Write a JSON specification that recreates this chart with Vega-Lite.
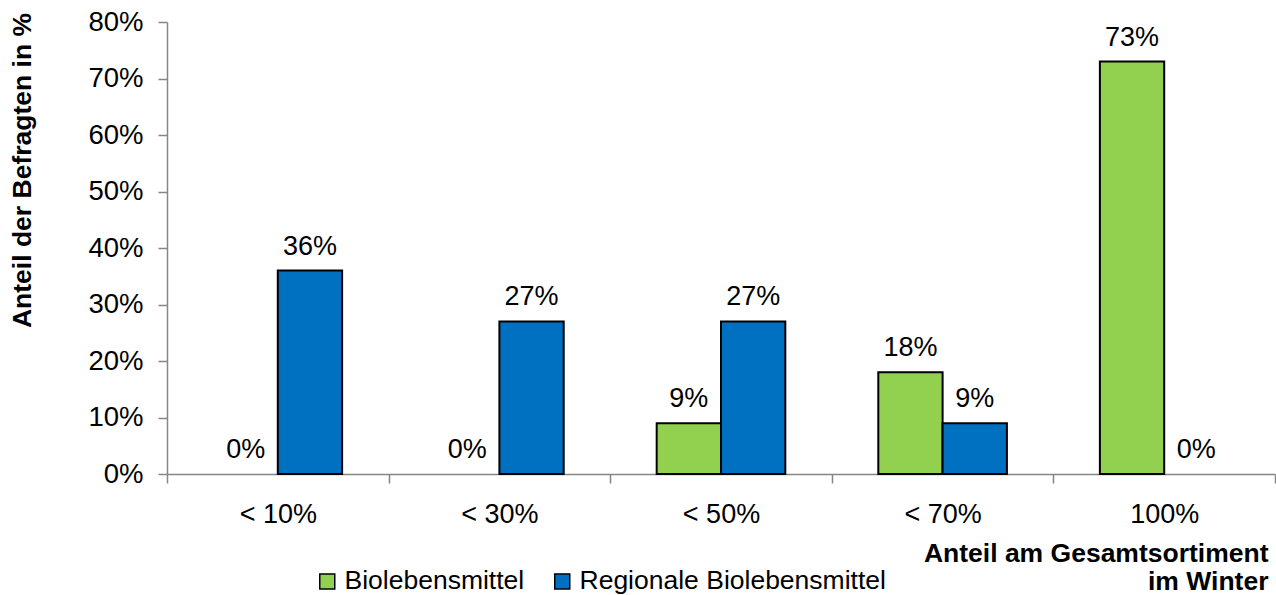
{
  "$schema": "https://vega.github.io/schema/vega-lite/v6.json",
  "width": 1108,
  "height": 452,
  "autosize": "none",
  "padding": {"left": 167, "top": 22, "right": 1, "bottom": 121},
  "background": "white",
  "config": {
    "view": {"stroke": null},
    "font": "Liberation Sans",
    "axis": {"grid": false, "domainColor": "#868686", "tickColor": "#868686", "domainWidth": 1.5, "tickWidth": 1.5, "labelColor": "black", "titleColor": "black", "labelFont": "Liberation Sans", "titleFont": "Liberation Sans"}
  },
  "data": {
    "values": [
      {"kategorie": "< 10%", "serie": "Biolebensmittel", "wert": 0.0},
      {"kategorie": "< 10%", "serie": "Regionale Biolebensmittel", "wert": 0.36},
      {"kategorie": "< 30%", "serie": "Biolebensmittel", "wert": 0.0},
      {"kategorie": "< 30%", "serie": "Regionale Biolebensmittel", "wert": 0.27},
      {"kategorie": "< 50%", "serie": "Biolebensmittel", "wert": 0.09},
      {"kategorie": "< 50%", "serie": "Regionale Biolebensmittel", "wert": 0.27},
      {"kategorie": "< 70%", "serie": "Biolebensmittel", "wert": 0.18},
      {"kategorie": "< 70%", "serie": "Regionale Biolebensmittel", "wert": 0.09},
      {"kategorie": "100%", "serie": "Biolebensmittel", "wert": 0.73},
      {"kategorie": "100%", "serie": "Regionale Biolebensmittel", "wert": 0.0}
    ]
  },
  "encoding": {
    "x": {
      "field": "kategorie",
      "type": "nominal",
      "sort": ["< 10%", "< 30%", "< 50%", "< 70%", "100%"],
      "scale": {"paddingInner": 0, "paddingOuter": 0},
      "axis": {
        "labelAngle": 0,
        "labelFontSize": 27,
        "labelPadding": 18,
        "tickBand": "extent",
        "tickSize": 9,
        "title": ["Anteil am Gesamtsortiment", "im Winter"],
        "titleFontSize": 26.5,
        "titleFontWeight": "bold",
        "titleAnchor": "end",
        "titleAlign": "right",
        "titleBaseline": "alphabetic",
        "titleLineHeight": 28,
        "titleX": 1101,
        "titleY": 87
      }
    },
    "xOffset": {
      "field": "serie",
      "sort": ["Biolebensmittel", "Regionale Biolebensmittel"],
      "scale": {"paddingInner": 0, "paddingOuter": 0.723}
    },
    "y": {
      "field": "wert",
      "type": "quantitative",
      "scale": {"domain": [0, 0.8]},
      "axis": {
        "format": ".0%",
        "values": [0, 0.1, 0.2, 0.3, 0.4, 0.5, 0.6, 0.7, 0.8],
        "labelFontSize": 27.5,
        "labelPadding": 15,
        "tickSize": 9,
        "title": "Anteil der Befragten in %",
        "titleFontSize": 26.5,
        "titleFontWeight": "bold",
        "titleAngle": 270,
        "titleAlign": "center",
        "titleBaseline": "middle",
        "titleX": -145,
        "titleY": 148
      }
    }
  },
  "layer": [
    {
      "transform": [{"filter": "datum.wert > 0"}],
      "mark": {"type": "bar", "stroke": "black", "strokeWidth": 2},
      "encoding": {
        "color": {
          "field": "serie",
          "type": "nominal",
          "sort": ["Biolebensmittel", "Regionale Biolebensmittel"],
          "scale": {"domain": ["Biolebensmittel", "Regionale Biolebensmittel"], "range": ["#92D050", "#0070C0"]},
          "legend": {
            "title": null,
            "orient": "none",
            "direction": "horizontal",
            "legendX": 147,
            "legendY": 546,
            "symbolType": "square",
            "symbolSize": 225,
            "symbolStrokeColor": "black",
            "symbolStrokeWidth": 1.5,
            "symbolOpacity": 1,
            "labelFontSize": 26.5,
            "labelFont": "Liberation Sans",
            "labelColor": "black",
            "labelOffset": 4,
            "labelLimit": 0,
            "columnPadding": 24
          }
        }
      }
    },
    {
      "mark": {"type": "text", "dy": -16, "baseline": "alphabetic", "fontSize": 27, "font": "Liberation Sans", "color": "black"},
      "encoding": {
        "text": {"field": "wert", "type": "quantitative", "format": ".0%"}
      }
    }
  ]
}
